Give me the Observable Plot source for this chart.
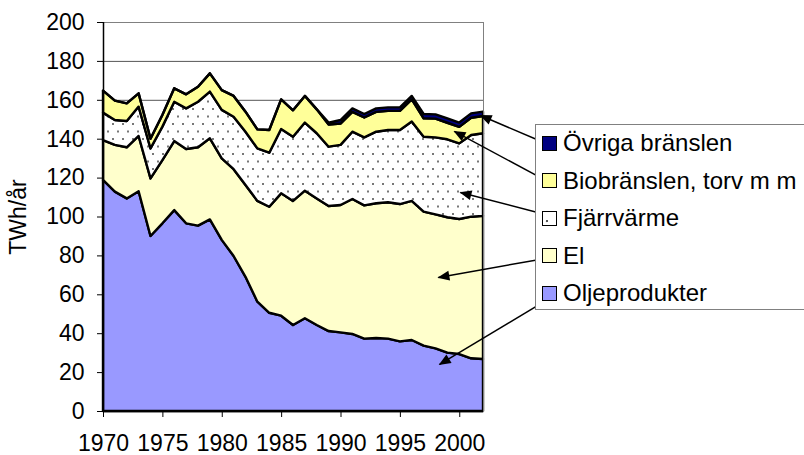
<!DOCTYPE html>
<html>
<head>
<meta charset="utf-8">
<script src="https://cdn.jsdelivr.net/npm/d3@7"></script>
<script src="https://cdn.jsdelivr.net/npm/@observablehq/plot@0.6"></script>
<style>
  html, body { margin: 0; padding: 0; background: white; overflow: hidden; }
  #wrap { position: relative; width: 804px; height: 455px; font-family: "Liberation Sans", Arial, sans-serif; }
  #legend { position: absolute; left: 535px; top: 124px; width: 300px; height: 186px; border: 1px solid #808080; background: white; box-sizing: border-box; }
  .row { position: absolute; left: 6px; height: 26px; display: flex; align-items: center; font-size: 24px; color: black; white-space: nowrap; }
  .sw { width: 13px; height: 13px; border: 1.5px solid black; margin-right: 6px; flex: none; }
</style>
</head>
<body>
<div id="wrap"><div id="chart"></div><div id="legend"></div></div>
<script>
const years = d3.range(1970, 2003);
const seriesNames = ["Oljeprodukter", "El", "Fjärrvärme", "Biobränslen, torv m m", "Övriga bränslen"];
const olje = [118.8,112.8,109.3,113.0,90.0,96.5,103.3,96.5,95.3,98.5,88.0,79.7,69.0,56.2,50.5,49.0,44.2,47.7,44.2,41.1,40.4,39.6,37.2,37.5,37.2,35.8,36.5,33.6,32.2,30.0,29.3,27.1,26.7];
const el = [20.5,24.0,26.3,28.4,29.6,32.5,35.5,38.2,40.3,41.7,41.9,44.6,47.2,51.8,54.5,62.9,63.8,65.6,65.1,64.3,65.5,69.4,68.5,69.3,70.1,70.6,71.5,68.9,68.9,69.6,69.4,72.8,73.6];
const fjarr = [14.1,12.8,13.5,15.1,15.4,17.2,20.2,20.9,23.4,24.0,24.9,27.0,27.4,27.0,27.8,33.1,33.0,35.0,33.5,30.5,30.9,34.6,35.0,36.8,37.2,38.1,40.8,38.5,39.6,40.1,38.9,42.0,42.5];
const bio = [11.3,10.0,9.1,6.8,5.0,6.0,6.9,7.2,7.7,9.4,10.2,10.7,10.3,9.8,11.7,15.2,13.6,13.7,12.3,11.4,11.0,10.2,10.2,10.2,9.8,9.8,11.4,9.5,9.6,8.5,8.5,8.9,8.9];
const ovriga = [0,0,0,0,0,0,0,0,0,0,0,0,0,0,0,0,0,0,0,1.0,1.8,1.8,1.8,1.8,1.8,1.8,1.8,2.2,2.2,2.2,2.2,2.2,2.2];
const colors = ["#9999FF", "#FFFFCC", "url(#dots)", "#FFFF99", "#000080"];
const yTicks = d3.range(0, 201, 20);
const xTicks = d3.range(1970, 2001, 5);

// leader arrows: tail at legend entry, head in area (data units)
const arrowSeries = ["Övriga bränslen", "Biobränslen, torv m m", "Fjärrvärme", "El", "Oljeprodukter"];
const arrowTailX = [2006.88, 2007.39, 2006.88, 2007.22, 2007.81];
const arrowTailY = [138.8, 118.3, 101.8, 78.7, 59.1];
const arrowHeadX = [2001.75, 1999.55, 2000.06, 1998.2, 1998.3];
const arrowHeadY = [152.2, 144.0, 112.6, 68.9, 24.2];

const series = [olje, el, fjarr, bio, ovriga];
const table = [];
seriesNames.forEach((s, i) => years.forEach((yr, j) => table.push({series: s, year: yr, value: series[i][j]})));
const arrows = arrowSeries.map((s, i) => ({series: s, x1: arrowTailX[i], y1: arrowTailY[i], x2: arrowHeadX[i], y2: arrowHeadY[i]}));

const chart = Plot.plot({
  width: 804, height: 455,
  marginLeft: 103, marginRight: 321, marginTop: 22, marginBottom: 44,
  style: {fontFamily: "'Liberation Sans', Arial, sans-serif", fontSize: "23px", background: "white", color: "black", overflow: "visible"},
  x: {domain: [1970, 2002]},
  y: {domain: [0, 200]},
  color: {domain: seriesNames, range: colors},
  marks: [
    Plot.ruleY(yTicks, {stroke: "#555", strokeWidth: 1}),
    Plot.areaY(table, Plot.stackY({x: "year", y: "value", fill: "series", stroke: "black", strokeWidth: 2.4, strokeLinejoin: "round"})),
    Plot.frame({stroke: "#808080"}),
    Plot.ruleX([1970], {stroke: "black", strokeWidth: 1.5}),
    Plot.ruleY([0], {stroke: "black", strokeWidth: 1.5}),
    Plot.axisX({ticks: xTicks, tickFormat: "d", tickSize: 6, tickPadding: 17, label: null, fontSize: 23}),
    Plot.axisY({ticks: yTicks, tickSize: 6, tickPadding: 13, label: "TWh/år", labelAnchor: "center", labelArrow: "none", labelOffset: 94, fontSize: 23}),
    Plot.link(arrows, {x1: "x1", y1: "y1", x2: "x2", y2: "y2", stroke: "black", strokeWidth: 1.5, markerEnd: "arrow"})
  ]
});

// dotted pattern for Fjärrvärme
const svg = d3.select(chart);
const defs = svg.insert("defs", ":first-child");
const pat = defs.append("pattern").attr("id", "dots").attr("patternUnits", "userSpaceOnUse")
  .attr("width", 10).attr("height", 15);
pat.append("rect").attr("width", 10).attr("height", 15).attr("fill", "white");
pat.append("rect").attr("x", 2).attr("y", 3).attr("width", 2).attr("height", 2).attr("fill", "#777");
pat.append("rect").attr("x", 7).attr("y", 10.5).attr("width", 2).attr("height", 2).attr("fill", "#777");

// filled arrowheads
svg.selectAll("marker").attr("overflow", "visible").attr("fill", "black").attr("stroke", "none");
svg.selectAll("marker path").attr("d", "M-11,-5L1,0L-11,5Z").attr("fill", "black").attr("stroke", "none");

document.getElementById("chart").appendChild(chart);

// legend (top to bottom)
const legendOrder = ["Övriga bränslen", "Biobränslen, torv m m", "Fjärrvärme", "El", "Oljeprodukter"];
const legendBg = {
  "Övriga bränslen": "#000080",
  "Biobränslen, torv m m": "#FFFF99",
  "Fjärrvärme": "white radial-gradient(circle at 30% 70%, #555 1px, transparent 1.5px)",
  "El": "#FFFFCC",
  "Oljeprodukter": "#9999FF"
};
const legend = document.getElementById("legend");
legendOrder.forEach((name, i) => {
  const row = document.createElement("div");
  row.className = "row";
  row.style.top = (5 + i * 37.5) + "px";
  const sw = document.createElement("div");
  sw.className = "sw";
  sw.style.background = legendBg[name];
  const t = document.createElement("span");
  t.textContent = name;
  row.appendChild(sw); row.appendChild(t);
  legend.appendChild(row);
});
</script>
</body>
</html>
